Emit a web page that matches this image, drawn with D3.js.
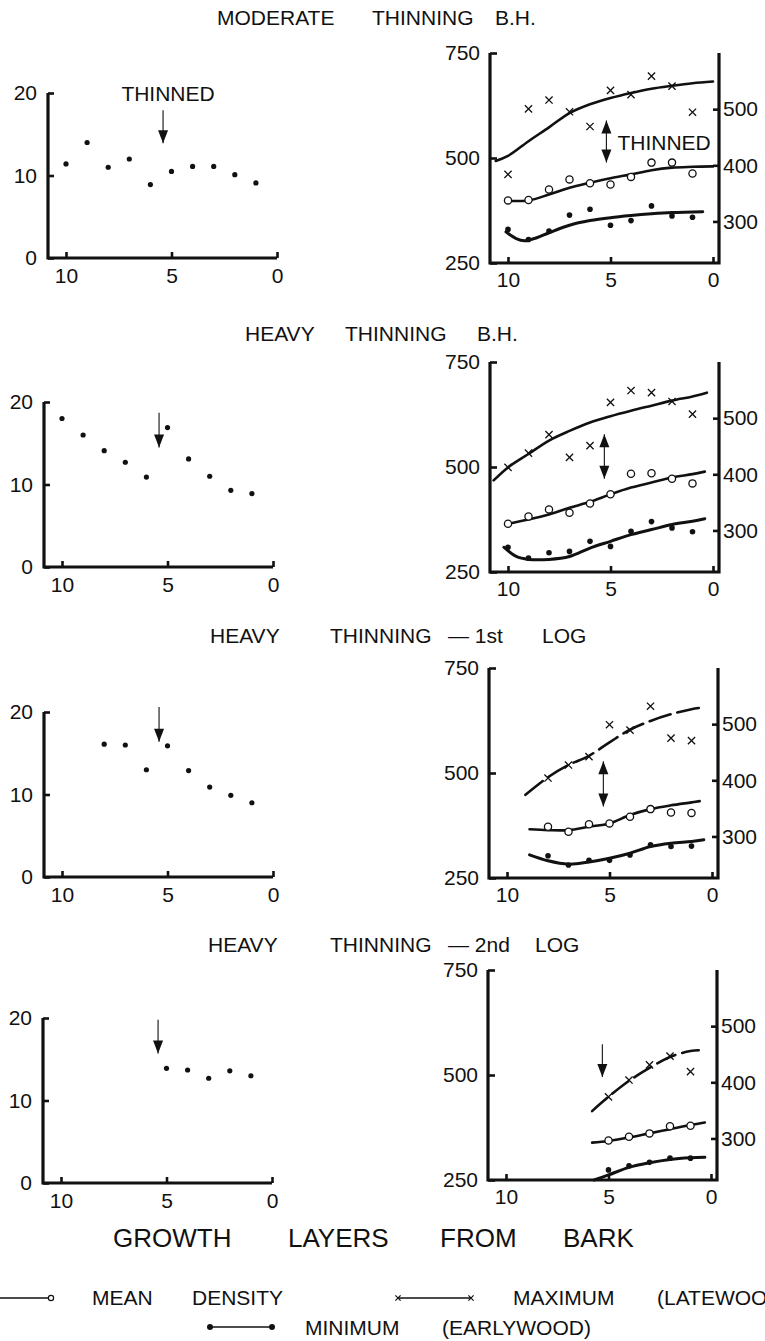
<!DOCTYPE html>
<html>
<head>
<meta charset="utf-8">
<script src="https://cdn.jsdelivr.net/npm/d3@7"></script>
<style>
  body { margin: 0; background: #fff; }
  text { font-family: "Liberation Sans", Arial, sans-serif; fill: #111; }
</style>
</head>
<body>
<svg id="fig"></svg>
<script>
// ---- data ----
var layersAll = [10, 9, 8, 7, 6, 5, 4, 3, 2, 1];
var layersLog1 = [8, 7, 6, 5, 4, 3, 2, 1];
var layersLog2 = [5, 4, 3, 2, 1];

var ringTicks = [0, 10, 20];
var layerTicks = [10, 5, 0];
var densTicks = [250, 500, 750];
var densTicksRight = [300, 400, 500];

// ring width (left panels)
var ringModBH = [11.4, 14.0, 11.0, 12.0, 8.9, 10.5, 11.1, 11.1, 10.1, 9.1];
var ringHeavyBH = [18.0, 16.0, 14.1, 12.7, 10.9, 16.9, 13.1, 11.0, 9.3, 8.9];
var ringLog1 = [16.1, 16.0, 13.0, 15.9, 12.9, 10.9, 9.9, 9.0];
var ringLog2 = [13.9, 13.7, 12.7, 13.6, 13.0];

// density (right panels): maximum, mean, minimum
var maxModBH = [461, 617, 638, 610, 575, 661, 651, 695, 671, 609];
var meanModBH = [399, 400, 425, 449, 440, 437, 455, 489, 489, 463];
var minModBH = [330, 306, 326, 364, 378, 340, 351, 386, 362, 359];

var maxHeavyBH = [499, 533, 577, 523, 551, 654, 682, 677, 656, 626];
var meanHeavyBH = [365, 382, 399, 391, 413, 435, 484, 485, 472, 461];
var minHeavyBH = [309, 283, 296, 299, 323, 311, 347, 370, 355, 346];

var maxLog1 = [488, 519, 539, 615, 602, 659, 583, 577];
var meanLog1 = [372, 360, 378, 380, 396, 414, 406, 405];
var minLog1 = [303, 281, 292, 292, 305, 329, 325, 326];

var maxLog2 = [448, 488, 524, 545, 508];
var meanLog2 = [344, 353, 361, 378, 379];
var minLog2 = [274, 284, 292, 302, 302];

// fitted curves [layer, density]
var fitMaxModBH = [[10.6, 493], [10, 505], [9, 540], [8, 573], [7, 607], [6, 628], [5, 643], [4, 655], [3, 665], [2, 672], [1, 678], [0, 682]];
var fitMeanModBH = [[10, 398], [9, 399], [8, 413], [7, 429], [6, 441], [5, 452], [4, 461], [3, 471], [2, 477], [1, 479], [0, 480]];
var fitMinModBH = [[10.1, 324], [9.6, 308], [9.2, 303], [8.6, 310], [8, 322], [7, 340], [6, 351], [5, 358], [4, 363], [3, 367], [2, 370], [0.5, 372]];

var fitMaxHeavyBH = [[10.7, 468], [10, 499], [9, 531], [8, 563], [7, 586], [6, 606], [5, 621], [4, 634], [3, 646], [2, 658], [1, 668], [0.3, 677]];
var fitMeanHeavyBH = [[10, 365], [9, 375], [8, 387], [7, 403], [6, 417], [5, 435], [4, 451], [3, 463], [2, 475], [1, 483], [0.4, 489]];
var fitMinHeavyBH = [[10.2, 309], [9.6, 287], [9, 280], [8, 280], [7, 287], [6, 307], [5, 323], [4, 339], [3, 351], [2, 363], [1, 371], [0.4, 377]];

var fitMaxLog1 = [[9.1, 448], [8, 490], [7, 519], [6, 541], [5, 573], [4, 603], [3, 624], [2, 640], [1, 652], [0.6, 655]];
var fitMeanLog1 = [[8.9, 366], [8, 364], [7, 364], [6, 372], [5, 380], [4, 400], [3, 414], [2, 423], [1, 430], [0.6, 433]];
var fitMinLog1 = [[8.9, 305], [8, 291], [7, 283], [6, 288], [5, 297], [4, 309], [3, 325], [2, 333], [1, 337], [0.4, 341]];

var fitMaxLog2 = [[5.8, 414], [5, 448], [4, 486], [3, 517], [2, 543], [1, 557], [0.6, 559]];
var fitMeanLog2 = [[5.8, 339], [5, 343], [4, 351], [3, 361], [2, 371], [1, 381], [0.3, 387]];
var fitMinLog2 = [[5.7, 250], [5, 262], [4, 280], [3, 291], [2, 299], [1, 303], [0.3, 304]];

// thinning arrows: [layer, from, to]
var arrowRing = [[5.4, 17.9, 13.9], [5.4, 18.7, 14.5], [5.4, 20.6, 16.4], [5.4, 19.8, 15.7]];
var arrowDens = [[5.2, 589, 489], [5.3, 578, 472], [5.3, 528, 420], [5.3, 573, 495]];

var titleWords = [
  [["MODERATE", 217], ["THINNING", 372], ["B.H.", 495]],
  [["HEAVY", 245], ["THINNING", 345], ["B.H.", 477]],
  [["HEAVY", 210], ["THINNING", 330], ["\u2014 1st", 448], ["LOG", 542]],
  [["HEAVY", 208], ["THINNING", 330], ["\u2014 2nd", 448], ["LOG", 535]]
];

// ---- layout ----
var width = 765, height = 1341;
var rowLayout = [
  { title: 25, leftTop: 93, leftZero: 277, rightTop: 53, rightZero: 713 },
  { title: 341, leftTop: 402, leftZero: 273, rightTop: 362, rightZero: 713 },
  { title: 643, leftTop: 712, leftZero: 273, rightTop: 668, rightZero: 712 },
  { title: 952, leftTop: 1018, leftZero: 272, rightTop: 970, rightZero: 711 }
];

var panels = [
  { layers: layersAll, ring: ringModBH, max: maxModBH, mean: meanModBH, min: minModBH,
    fitMax: fitMaxModBH, fitMean: fitMeanModBH, fitMin: fitMinModBH, dash: null, single: false },
  { layers: layersAll, ring: ringHeavyBH, max: maxHeavyBH, mean: meanHeavyBH, min: minHeavyBH,
    fitMax: fitMaxHeavyBH, fitMean: fitMeanHeavyBH, fitMin: fitMinHeavyBH, dash: null, single: false },
  { layers: layersLog1, ring: ringLog1, max: maxLog1, mean: meanLog1, min: minLog1,
    fitMax: fitMaxLog1, fitMean: fitMeanLog1, fitMin: fitMinLog1, dash: "22,7", single: false },
  { layers: layersLog2, ring: ringLog2, max: maxLog2, mean: meanLog2, min: minLog2,
    fitMax: fitMaxLog2, fitMean: fitMeanLog2, fitMin: fitMinLog2, dash: "20,7", single: true }
];

var svg = d3.select("#fig")
  .attr("width", width)
  .attr("height", height);

var ink = "#111";

function styleAxis(g) {
  g.select(".domain").remove();
  g.selectAll(".tick line")
    .attr("stroke", ink)
    .attr("stroke-width", 2.6);
  g.selectAll(".tick text")
    .style("font-size", "21px")
    .style("font-family", "'Liberation Sans', Arial, sans-serif")
    .attr("fill", ink);
}

function drawArrow(g, x, yFrom, yTo, both) {
  g.append("line")
    .attr("x1", x).attr("x2", x)
    .attr("y1", yFrom).attr("y2", yTo)
    .attr("stroke", ink)
    .attr("stroke-width", 1.1);
  g.append("path")
    .attr("d", `M${x - 5},${yTo - 13}L${x + 5},${yTo - 13}L${x},${yTo}Z`)
    .attr("fill", ink);
  if (both) {
    g.append("path")
      .attr("d", `M${x - 5},${yFrom + 13}L${x + 5},${yFrom + 13}L${x},${yFrom}Z`)
      .attr("fill", ink);
  }
}

panels.forEach(function(p, i) {
  var L = rowLayout[i];
  var row = svg.append("g").attr("class", "row row-" + i);

  // Title
  row.selectAll(".title")
    .data(titleWords[i])
    .enter()
    .append("text")
    .attr("class", "title")
    .attr("x", d => d[1])
    .attr("y", L.title)
    .style("font-size", "21px")
    .text(d => d[0]);

  // ---- left panel: ring width ----
  var xL = d3.scaleLinear().domain([10, 0]).range([L.leftZero - 211, L.leftZero]);
  var yL = d3.scaleLinear().domain([0, 20]).range([L.leftTop + 165, L.leftTop]);
  var axL = L.leftZero - 229;

  row.append("path")
    .attr("d", `M${axL},${yL(20)}V${yL(0)}H${L.leftZero}`)
    .attr("fill", "none")
    .attr("stroke", ink)
    .attr("stroke-width", 3.2);

  row.append("g")
    .attr("transform", `translate(${axL},0)`)
    .call(d3.axisLeft(yL).tickValues(ringTicks).tickSize(-6).tickSizeOuter(0).tickPadding(11))
    .call(styleAxis);

  row.append("g")
    .attr("transform", `translate(0,${yL(0)})`)
    .call(d3.axisBottom(xL).tickValues(layerTicks).tickSize(-6).tickSizeOuter(0).tickPadding(10))
    .call(styleAxis);

  row.selectAll(".ring")
    .data(p.ring)
    .enter()
    .append("circle")
    .attr("class", "ring")
    .attr("cx", (d, j) => xL(p.layers[j]))
    .attr("cy", d => yL(d))
    .attr("r", 2.6)
    .attr("fill", ink);

  var aR = arrowRing[i];
  drawArrow(row, xL(aR[0]), yL(aR[1]), yL(aR[2]), false);

  if (i === 0) {
    row.append("text")
      .attr("x", xL(aR[0]) + 5)
      .attr("y", yL(aR[1]) - 9)
      .attr("text-anchor", "middle")
      .style("font-size", "21px")
      .text("THINNED");
  }

  // ---- right panel: density ----
  var xR = d3.scaleLinear().domain([10, 0]).range([L.rightZero - 205, L.rightZero]);
  var yR = d3.scaleLinear().domain([250, 750]).range([L.rightTop + 210, L.rightTop]);
  var yR2 = d3.scaleLinear().domain([226, 600]).range([L.rightTop + 210, L.rightTop]);
  var axRL = L.rightZero - 223;
  var axRR = L.rightZero + 6;

  row.append("path")
    .attr("d", `M${axRL},${yR(750)}V${yR(250)}H${axRR}V${yR(750)}`)
    .attr("fill", "none")
    .attr("stroke", ink)
    .attr("stroke-width", 3.2);

  row.append("g")
    .attr("transform", `translate(${axRL},0)`)
    .call(d3.axisLeft(yR).tickValues(densTicks).tickSize(-7).tickSizeOuter(0).tickPadding(10))
    .call(styleAxis);

  row.append("g")
    .attr("transform", `translate(${axRR},0)`)
    .call(d3.axisRight(yR2).tickValues(densTicksRight).tickSize(-6).tickSizeOuter(0).tickPadding(4))
    .call(styleAxis);

  row.append("g")
    .attr("transform", `translate(0,${yR(250)})`)
    .call(d3.axisBottom(xR).tickValues(layerTicks).tickSize(-6).tickSizeOuter(0).tickPadding(9))
    .call(styleAxis);

  var curve = d3.line()
    .x(d => xR(d[0]))
    .y(d => yR(d[1]))
    .curve(d3.curveCatmullRom.alpha(0.5));

  [p.fitMax, p.fitMean, p.fitMin].forEach(function(f, k) {
    row.append("path")
      .attr("class", "fit")
      .attr("d", curve(f))
      .attr("fill", "none")
      .attr("stroke", ink)
      .attr("stroke-width", k === 2 ? 3 : 2.6)
      .attr("stroke-linecap", "round")
      .attr("stroke-dasharray", k === 0 ? p.dash : null);
  });

  // maximum (latewood) crosses
  row.selectAll(".maxpt")
    .data(p.max)
    .enter()
    .append("path")
    .attr("class", "maxpt")
    .attr("transform", (d, j) => `translate(${xR(p.layers[j])},${yR(d)})`)
    .attr("d", "M-3.6,-3.6L3.6,3.6M-3.6,3.6L3.6,-3.6")
    .attr("stroke", ink)
    .attr("stroke-width", 1.3);

  // mean density open circles
  row.selectAll(".meanpt")
    .data(p.mean)
    .enter()
    .append("circle")
    .attr("class", "meanpt")
    .attr("cx", (d, j) => xR(p.layers[j]))
    .attr("cy", d => yR(d))
    .attr("r", 3.6)
    .attr("fill", "#fff")
    .attr("stroke", ink)
    .attr("stroke-width", 1.3);

  // minimum (earlywood) dots
  row.selectAll(".minpt")
    .data(p.min)
    .enter()
    .append("circle")
    .attr("class", "minpt")
    .attr("cx", (d, j) => xR(p.layers[j]))
    .attr("cy", d => yR(d))
    .attr("r", 2.8)
    .attr("fill", ink);

  var aD = arrowDens[i];
  drawArrow(row, xR(aD[0]), yR(aD[1]), yR(aD[2]), !p.single);

  if (i === 0) {
    row.append("text")
      .attr("x", xR(aD[0]) + 11)
      .attr("y", (yR(aD[1]) + yR(aD[2])) / 2 + 8)
      .style("font-size", "21px")
      .text("THINNED");
  }
});

// Axis caption
var caption = [["GROWTH", 113], ["LAYERS", 288], ["FROM", 440], ["BARK", 563]];
svg.selectAll(".caption")
  .data(caption)
  .enter()
  .append("text")
  .attr("class", "caption")
  .attr("x", d => d[0] === "GROWTH" ? d[1] : d[1])
  .attr("y", 1247)
  .style("font-size", "26px")
  .text(d => d[0]);

// Legend
var legend = svg.append("g").attr("class", "legend");

legend.append("line")
  .attr("x1", 0).attr("x2", 48).attr("y1", 1298).attr("y2", 1298)
  .attr("stroke", ink).attr("stroke-width", 1.5);
legend.append("circle")
  .attr("cx", 51).attr("cy", 1298).attr("r", 2.6)
  .attr("fill", "#fff").attr("stroke", ink).attr("stroke-width", 1.2);

legend.append("line")
  .attr("x1", 398).attr("x2", 471).attr("y1", 1298).attr("y2", 1298)
  .attr("stroke", ink).attr("stroke-width", 1.5);
legend.selectAll(".lx")
  .data([398, 471])
  .enter()
  .append("path")
  .attr("class", "lx")
  .attr("transform", d => `translate(${d},1298)`)
  .attr("d", "M-2.6,-2.6L2.6,2.6M-2.6,2.6L2.6,-2.6")
  .attr("stroke", ink).attr("stroke-width", 1.2);

legend.append("line")
  .attr("x1", 210).attr("x2", 272).attr("y1", 1327).attr("y2", 1327)
  .attr("stroke", ink).attr("stroke-width", 1.5);
legend.selectAll(".ld")
  .data([210, 272])
  .enter()
  .append("circle")
  .attr("class", "ld")
  .attr("cx", d => d).attr("cy", 1327).attr("r", 3)
  .attr("fill", ink);

var legendText = [["MEAN", 92, 1305], ["DENSITY", 192, 1305], ["MAXIMUM", 513, 1305],
  ["(LATEWOOD)", 657, 1305], ["MINIMUM", 305, 1335], ["(EARLYWOOD)", 442, 1335]];
legend.selectAll(".lt")
  .data(legendText)
  .enter()
  .append("text")
  .attr("class", "lt")
  .attr("x", d => d[1])
  .attr("y", d => d[2])
  .style("font-size", "21px")
  .text(d => d[0]);
</script>
</body>
</html>
